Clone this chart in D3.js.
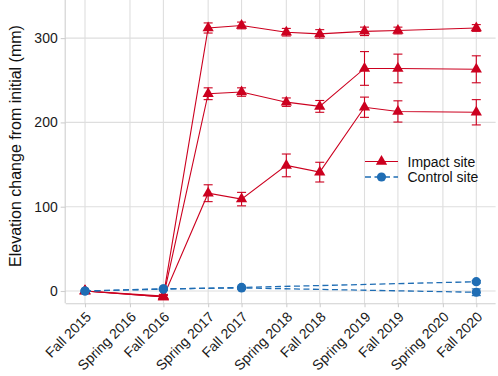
<!DOCTYPE html>
<html>
<head>
<meta charset="utf-8">
<script src="https://cdn.jsdelivr.net/npm/d3@7"></script>
<style>
  html, body { margin: 0; padding: 0; background: #ffffff; }
  svg { display: block; font-family: "Liberation Sans", Arial, sans-serif; }
</style>
</head>
<body>
<svg id="chart" width="498" height="376"></svg>
<script>
// ---- data ----
const seasons = ["Fall 2015", "Spring 2016", "Fall 2016", "Spring 2017", "Fall 2017",
  "Spring 2018", "Fall 2018", "Spring 2019", "Fall 2019", "Spring 2020", "Fall 2020"];
const seasonDates = ["2015-09-15", "2016-04-12", "2016-09-15", "2017-04-12", "2017-09-15",
  "2018-04-12", "2018-09-15", "2019-04-12", "2019-09-15", "2020-04-12", "2020-09-15"];

const impactHigh    = [0, null, -6, 312, 315, 307, 305, 308, 309, null, 312];
const impactHighErr = [0, null, 2, 6, 4, 4.5, 5, 5, 4, null, 4];
const impactMid     = [0, null, -7, 234, 236, 224, 219, 264, 264, null, 263];
const impactMidErr  = [0, null, 2, 7, 5, 5, 7, 20, 17, null, 16];
const impactLow     = [0, null, -7, 116, 109, 149, 141, 218, 213, null, 212];
const impactLowErr  = [0, null, 2, 10, 8, 13.5, 11.7, 12, 12.6, null, 15];

const controlA      = [0, null, 2.2, null, 4.2, null, null, null, null, null, 11];
const controlAErr   = [0, null, 1, null, 1, null, null, null, null, null, 1.5];
const controlB      = [0, null, 2.6, null, 3.6, null, null, null, null, null, -1.5];
const controlBErr   = [0, null, 1, null, 1, null, null, null, null, null, 4];

const yTicks = [0, 100, 200, 300];
const legendLabels = ["Impact site", "Control site"];

// ---- styles ----
const RED = "#cc001f";
const BLUE = "#1f6db4";
const GRID = "#dedede";

const svg = d3.select("#chart");
const parse = d3.timeParse("%Y-%m-%d");
const dates = seasonDates.map(parse);

const panel = { left: 65.7, right: 495.6, top: 0, bottom: 303.3 };

const x = d3.scaleTime().domain([dates[0], dates[dates.length - 1]]).range([85, 476.3]);
const y = d3.scaleLinear().domain([-14.6, 345.2]).range([panel.bottom, panel.top]);

// grid
const g = svg.append("g");
g.selectAll(".vg").data(dates).enter().append("line")
  .attr("x1", d => x(d)).attr("x2", d => x(d))
  .attr("y1", panel.top).attr("y2", panel.bottom)
  .attr("stroke", GRID).attr("stroke-width", 1.1);
g.selectAll(".hg").data(yTicks).enter().append("line")
  .attr("x1", panel.left).attr("x2", panel.right)
  .attr("y1", d => y(d)).attr("y2", d => y(d))
  .attr("stroke", GRID).attr("stroke-width", 1.1);

// axes
const xAxis = d3.axisBottom(x).tickValues(dates).tickSize(4).tickFormat((d, i) => seasons[i]);
const xg = svg.append("g").attr("transform", `translate(0,${panel.bottom})`).call(xAxis);
xg.select(".domain").attr("d", `M${panel.left},0.5H${panel.right}`).attr("stroke", "#cfcfcf").attr("stroke-width", 1.1);
xg.selectAll(".tick line").attr("stroke", "#cfcfcf").attr("stroke-width", 1.1);
xg.selectAll(".tick text")
  .attr("font-size", 14).attr("fill", "#1a1a1a")
  .attr("text-anchor", "end")
  .attr("dy", "0.35em")
  .attr("transform", "translate(3,11) rotate(-45)")
  .attr("y", 0).attr("x", 0);

const yAxis = d3.axisLeft(y).tickValues(yTicks).tickSize(5).tickFormat(d3.format("d"));
const yg = svg.append("g").attr("transform", `translate(${panel.left},0)`).call(yAxis);
yg.select(".domain").attr("d", `M-0.5,${panel.top}V${panel.bottom}`).attr("stroke", "#cfcfcf").attr("stroke-width", 1.1);
yg.selectAll(".tick line").attr("stroke", "#cfcfcf").attr("stroke-width", 1.1);
yg.selectAll(".tick text").attr("font-size", 14).attr("fill", "#1a1a1a").attr("x", -8);

// axis title
svg.append("text")
  .attr("transform", `translate(21,146) rotate(-90)`)
  .attr("text-anchor", "middle")
  .attr("font-size", 16).attr("fill", "#111")
  .text("Elevation change from initial (mm)");

function toPoints(vals, errs) {
  return vals.map((v, i) => ({ d: dates[i], v: v, e: errs[i] })).filter(p => p.v !== null);
}

const line = d3.line().x(p => x(p.d)).y(p => y(p.v));
const tri = d3.symbol().type(d3.symbolTriangle).size(55);

function drawSeries(vals, errs, color, dashed, marker) {
  const pts = toPoints(vals, errs);
  const s = svg.append("g");
  s.append("path").datum(pts).attr("d", line)
    .attr("fill", "none").attr("stroke", color)
    .attr("stroke-width", dashed ? 1.3 : 1.1)
    .attr("stroke-dasharray", dashed ? "6,3.5" : null);
  const eb = s.selectAll(".eb").data(pts.filter(p => p.e > 0)).enter().append("g");
  eb.append("line").attr("x1", p => x(p.d)).attr("x2", p => x(p.d))
    .attr("y1", p => y(p.v + p.e)).attr("y2", p => y(p.v - p.e))
    .attr("stroke", color).attr("stroke-width", 1.1);
  [1, -1].forEach(sg => {
    eb.append("line").attr("x1", p => x(p.d) - 4.5).attr("x2", p => x(p.d) + 4.5)
      .attr("y1", p => y(p.v + sg * p.e)).attr("y2", p => y(p.v + sg * p.e))
      .attr("stroke", color).attr("stroke-width", 1.1);
  });
  if (marker === "triangle") {
    s.selectAll(".m").data(pts).enter().append("path")
      .attr("d", tri).attr("transform", p => `translate(${x(p.d)},${y(p.v)})`)
      .attr("fill", color);
  } else {
    s.selectAll(".m").data(pts).enter().append("circle")
      .attr("cx", p => x(p.d)).attr("cy", p => y(p.v)).attr("r", 4.6)
      .attr("fill", color);
  }
}

drawSeries(impactLow, impactLowErr, RED, false, "triangle");
drawSeries(impactMid, impactMidErr, RED, false, "triangle");
drawSeries(impactHigh, impactHighErr, RED, false, "triangle");
drawSeries(controlA, controlAErr, BLUE, true, "circle");
drawSeries(controlB, controlBErr, BLUE, true, "circle");

// legend
const leg = svg.append("g");
const legY = [161.5, 177];
legendLabels.forEach((lab, i) => {
  const color = i === 0 ? RED : BLUE;
  leg.append("line").attr("x1", 365).attr("x2", 398).attr("y1", legY[i]).attr("y2", legY[i])
    .attr("stroke", color).attr("stroke-width", i === 0 ? 1.1 : 1.3)
    .attr("stroke-dasharray", i === 0 ? null : "6,3.5");
  if (i === 0) {
    leg.append("path").attr("d", tri).attr("transform", `translate(381.5,${legY[i]})`).attr("fill", color);
  } else {
    leg.append("circle").attr("cx", 381.5).attr("cy", legY[i]).attr("r", 4.6).attr("fill", color);
  }
  leg.append("text").attr("x", 407.5).attr("y", legY[i]).attr("dy", "0.36em")
    .attr("font-size", 14).attr("fill", "#111").text(lab);
});
</script>
</body>
</html>
